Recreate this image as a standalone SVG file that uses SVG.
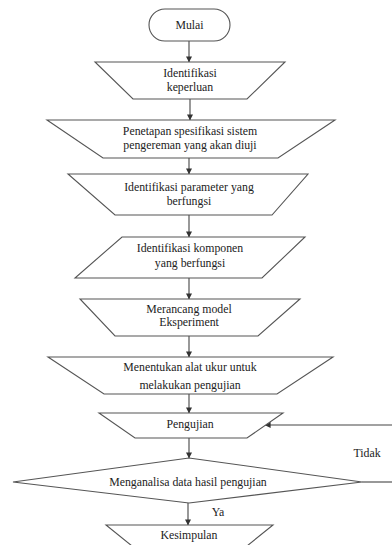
<svg xmlns="http://www.w3.org/2000/svg" width="392" height="545" viewBox="0 0 392 545">
<defs>
<style>
.s{fill:#fff;stroke:#555;stroke-width:1.1}
.c{fill:none;stroke:#444;stroke-width:1.1}
text{font-family:'Liberation Serif','Times New Roman','DejaVu Serif',serif;font-size:11.8px;fill:#222;text-anchor:middle;dominant-baseline:central}
</style>
<marker id="ah" viewBox="0 0 8 8" refX="7.5" refY="4" markerWidth="6" markerHeight="6" orient="auto" markerUnits="userSpaceOnUse">
<path d="M0,0L8,4L0,8z" fill="#333"/>
</marker>
</defs>
<rect width="392" height="545" fill="#fff"/>
<g id="connectors">
<line class="c" x1="189" y1="41" x2="189" y2="62" marker-end="url(#ah)"/>
<line class="c" x1="190" y1="99" x2="190" y2="120" marker-end="url(#ah)"/>
<line class="c" x1="189" y1="158" x2="189" y2="174" marker-end="url(#ah)"/>
<line class="c" x1="189" y1="215" x2="189" y2="237" marker-end="url(#ah)"/>
<line class="c" x1="189" y1="278" x2="189" y2="299" marker-end="url(#ah)"/>
<line class="c" x1="189" y1="336" x2="189" y2="357" marker-end="url(#ah)"/>
<line class="c" x1="189" y1="394" x2="189" y2="413" marker-end="url(#ah)"/>
<line class="c" x1="189" y1="438" x2="189" y2="458" marker-end="url(#ah)"/>
<line class="c" x1="188" y1="503" x2="188" y2="525" marker-end="url(#ah)"/>
<line class="c" x1="392" y1="425" x2="265" y2="425" marker-end="url(#ah)"/>
<line class="c" x1="362" y1="482" x2="392" y2="482"/>
</g>
<g font-family="Liberation Serif, Times New Roman, serif">
<g id="label-tidak"><text x="367" y="453">Tidak</text></g>
<g id="label-ya"><text x="218" y="512">Ya</text></g>
<g id="mulai">
<rect class="s" x="149" y="9" width="81" height="32" rx="16" ry="16"/>
<text x="189.5" y="25">Mulai</text>
</g>
<g id="identifikasi-keperluan">
<polygon class="s" points="95,62 285,62 247,99 133,99"/>
<text x="190" y="73">Identifikasi</text>
<text x="190" y="87">keperluan</text>
</g>
<g id="penetapan">
<polygon class="s" points="47,120 335,120 278,158 103,158"/>
<text x="190" y="131">Penetapan spesifikasi sistem</text>
<text x="190" y="145">pengereman yang akan diuji</text>
</g>
<g id="identifikasi-parameter">
<polygon class="s" points="68,174 308,174 272,215 115,215"/>
<text x="189" y="187">Identifikasi parameter yang</text>
<text x="189" y="201">berfungsi</text>
</g>
<g id="identifikasi-komponen">
<polygon class="s" points="122,237 305,237 262,278 75,278"/>
<text x="190" y="248">Identifikasi komponen</text>
<text x="190" y="263">yang berfungsi</text>
</g>
<g id="merancang">
<polygon class="s" points="80,299 300,299 258,336 115,336"/>
<text x="189" y="309">Merancang model</text>
<text x="189" y="322">Eksperiment</text>
</g>
<g id="menentukan">
<polygon class="s" points="48,357 333,357 277,394 104,394"/>
<text x="190" y="367">Menentukan alat ukur untuk</text>
<text x="190" y="385">melakukan pengujian</text>
</g>
<g id="pengujian">
<polygon class="s" points="99,413 283,413 247,438 135,438"/>
<text x="190" y="424">Pengujian</text>
</g>
<g id="menganalisa">
<polygon class="s" points="189,458 362,482 189,503 13,482"/>
<text x="188" y="482">Menganalisa data hasil pengujian</text>
</g>
<g id="kesimpulan">
<polygon class="s" points="106,525 273,525 242,550 137,550"/>
<text x="189" y="535">Kesimpulan</text>
</g>
</g>
</svg>
